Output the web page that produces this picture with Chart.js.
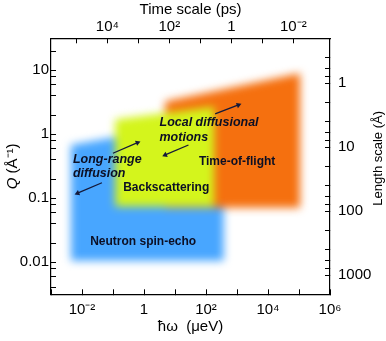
<!DOCTYPE html>
<html>
<head>
<meta charset="utf-8">
<script src="https://cdn.jsdelivr.net/npm/chart.js@4.4.1/dist/chart.umd.min.js"></script>
<style>
  html, body { margin: 0; padding: 0; background: #ffffff; }
  canvas { display: block; }
</style>
</head>
<body>
<canvas id="chart" width="386" height="341"></canvas>
<script>
// ---------------- data ----------------
const energyRange = [1e-3, 1e6];      // ħω axis (μeV)
const qRange = [0.00316, 31.6];       // Q axis (Å⁻¹)
const hbar = 658.2;                   // μeV·ps  (time = ħ / energy)
const twoPi = 6.2832;                 // length = 2π / Q

const energyTicks = [1e-3, 1e-2, 1e-1, 1, 10, 100, 1e3, 1e4, 1e5, 1e6];
const energyTickValues = [1e-2, 1, 1e2, 1e4, 1e6];
const energyTickLabels = ['10⁻²', '1', '10²', '10⁴', '10⁶'];

const timeTicks = [1e5, 1e4, 1e3, 100, 10, 1, 0.1, 0.01];
const timeTickValues = [1e4, 1e2, 1, 1e-2];
const timeTickLabels = ['10⁴', '10²', '1', '10⁻²'];

const qTicks = [0.004, 0.006, 0.008, 0.01, 0.02, 0.04, 0.06, 0.08, 0.1, 0.2, 0.4, 0.6, 0.8, 1, 2, 4, 6, 8, 10, 20];
const qTickValues = [0.01, 0.1, 1, 10];
const qTickLabels = ['0.01', '0.1', '1', '10'];

const lengthTicks = [0.4, 0.6, 0.8, 1, 2, 4, 6, 8, 10, 20, 40, 60, 80, 100, 200, 400, 600, 800, 1000];
const lengthTickValues = [1, 10, 100, 1000];
const lengthTickLabels = ['1', '10', '100', '1000'];

// instrument windows (corners: top-left, bottom-left, bottom-right, top-right)
const techniques = ['Neutron spin-echo', 'Time-of-flight', 'Backscattering'];
const nseEnergy = [0.0044, 0.0044, 370, 370];
const nseQ      = [0.68, 0.0106, 0.0106, 1.8];
const tofEnergy = [4.8, 4.8, 1.08e5, 1.08e5];
const tofQ      = [3.24, 0.071, 0.071, 8.97];
const bsEnergy  = [0.118, 0.118, 183, 183];
const bsQ       = [1.7, 0.0745, 0.0745, 2.7];

// arrows (tail -> head)
const arrowTailEnergy = [0.044, 0.0995, 27.2, 197];
const arrowTailQ      = [0.175, 0.505, 0.68, 2.08];
const arrowHeadEnergy = [0.0072, 0.618, 4.82, 1112];
const arrowHeadQ      = [0.12, 0.74, 0.475, 2.87];

// text notes
const noteText   = ['Long-range', 'diffusion', 'Local diffusional', 'motions', 'Time-of-flight', 'Backscattering', 'Neutron spin-echo'];
const noteEnergy = [0.0051, 0.0051, 3.16, 3.16, 1010, 5.2, 0.94];
const noteQ      = [0.407, 0.24, 1.54, 0.898, 0.369, 0.1465, 0.021];

// ---------------- styling ----------------
const FONT = '"Liberation Sans", Arial, Helvetica, sans-serif';
const INK = '#000000';
const ARROW = '#14193a';
const regionColors = ['#48a6ff', '#f5700f', '#d4f51c'];
const regionOrder = [3, 2, 1];
const noteItalic = [true, true, true, true, false, false, false];
const noteAlign = ['left', 'left', 'left', 'left', 'center', 'center', 'center'];

const pts = (xs, ys) => xs.map((x, i) => ({x: x, y: ys[i]}));
const labeler = (vals, texts) => (value) => {
  const i = vals.findIndex(v => Math.abs(Math.log10(v) - Math.log10(value)) < 1e-6);
  return i >= 0 ? texts[i] : '';
};
const tickSetter = (list) => (scale) => { scale.ticks = list.map(v => ({value: v})); };

const regionData = [[nseEnergy, nseQ], [tofEnergy, tofQ], [bsEnergy, bsQ]];
const regionDs = regionData.map((r, i) => ({
  type: 'line', label: techniques[i], data: pts(r[0], r[1]), fill: 'shape',
  backgroundColor: regionColors[i], borderWidth: 0, pointRadius: 0, tension: 0,
  order: regionOrder[i], soft: true, xAxisID: 'x', yAxisID: 'y'
}));

const arrowRotation = (c) => {
  if (c.type !== 'data') return 0;
  const d = c.chart.data.datasets[c.datasetIndex].data;
  const sx = c.chart.scales.x, sy = c.chart.scales.y;
  const dx = sx.getPixelForValue(d[1].x) - sx.getPixelForValue(d[0].x);
  const dy = sy.getPixelForValue(d[1].y) - sy.getPixelForValue(d[0].y);
  return Math.atan2(dx, -dy) * 180 / Math.PI;
};

const arrowDs = arrowTailEnergy.map((e, i) => ({
  type: 'line', label: 'arrow' + i,
  data: [{x: e, y: arrowTailQ[i]}, {x: arrowHeadEnergy[i], y: arrowHeadQ[i]}],
  borderColor: ARROW, borderWidth: 1.3, fill: false,
  pointRadius: [0, 3.2], pointStyle: 'triangle', pointRotation: arrowRotation,
  pointBackgroundColor: ARROW, pointBorderWidth: 0, order: 0,
  xAxisID: 'x', yAxisID: 'y'
}));

// blur all instrument windows together once they are painted
function softenArea(chart) {
  const c = chart.canvas, ctx = chart.ctx, a = chart.chartArea;
  const r = chart.currentDevicePixelRatio || 1;
  const off = document.createElement('canvas');
  off.width = c.width; off.height = c.height;
  off.getContext('2d').drawImage(c, 0, 0);
  ctx.save();
  ctx.setTransform(1, 0, 0, 1, 0, 0);
  ctx.beginPath();
  ctx.rect(a.left * r, a.top * r, (a.right - a.left) * r, (a.bottom - a.top) * r);
  ctx.clip();
  ctx.clearRect(a.left * r, a.top * r, (a.right - a.left) * r, (a.bottom - a.top) * r);
  ctx.filter = 'blur(' + (4 * r) + 'px)';
  ctx.drawImage(off, 0, 0);
  ctx.restore();
}

const softPlugin = {
  id: 'softRegions',
  beforeDatasetsDraw(chart) {
    chart.$drawSeq = chart.getSortedVisibleDatasetMetas().slice().reverse();
  },
  afterDatasetDraw(chart, args) {
    const seq = chart.$drawSeq || [];
    const k = seq.findIndex(m => m.index === args.index);
    const cur = chart.data.datasets[args.index];
    const nxt = seq[k + 1] ? chart.data.datasets[seq[k + 1].index] : null;
    if (cur.soft && !(nxt && nxt.soft)) softenArea(chart);
  }
};

const textPlugin = {
  id: 'notesAndTitles',
  afterDraw(chart) {
    const ctx = chart.ctx;
    const sx = chart.scales.x, sy = chart.scales.y, sr = chart.scales.yLen;
    ctx.save();
    ctx.fillStyle = '#0c0f24';
    ctx.textBaseline = 'middle';
    noteText.forEach((t, i) => {
      ctx.font = (noteItalic[i] ? 'italic bold 12.5px ' : 'bold 12px ') + FONT;
      ctx.textAlign = noteAlign[i];
      ctx.fillText(t, sx.getPixelForValue(noteEnergy[i]), sy.getPixelForValue(noteQ[i]));
    });
    ctx.restore();

    // left axis title: Q (Å⁻¹)
    const cy = (sy.top + sy.bottom) / 2;
    ctx.save();
    ctx.fillStyle = INK;
    ctx.textBaseline = 'middle';
    ctx.textAlign = 'left';
    ctx.translate(sy.left + 13, cy);
    ctx.rotate(-Math.PI / 2);
    const fI = 'italic 15px ' + FONT, fN = '15px ' + FONT;
    ctx.font = fI; const wQ = ctx.measureText('Q').width;
    ctx.font = fN; const rest = ' (Å⁻¹)'; const wR = ctx.measureText(rest).width;
    const x0 = -(wQ + wR) / 2;
    ctx.font = fI; ctx.fillText('Q', x0, 0);
    ctx.font = fN; ctx.fillText(rest, x0 + wQ, 0);
    ctx.restore();

    // right axis title
    ctx.save();
    ctx.fillStyle = INK;
    ctx.textBaseline = 'middle';
    ctx.textAlign = 'center';
    ctx.translate(sr.right - 8, cy - 8);
    ctx.rotate(-Math.PI / 2);
    ctx.font = '13px ' + FONT;
    ctx.fillText('Length scale (Å)', 0, 0);
    ctx.restore();
  }
};

const axisCommon = (extra) => Object.assign({
  type: 'logarithmic',
  border: {display: true, color: INK, width: 1.2, z: 1},
  grid: {display: true, drawOnChartArea: false, drawTicks: true, tickLength: -5,
         color: INK, tickColor: INK, tickWidth: 1, z: 1},
  z: 1
}, extra);

const tickFont = {family: FONT, size: 15};

new Chart(document.getElementById('chart'), {
  type: 'line',
  data: {datasets: [...regionDs, ...arrowDs]},
  options: {
    responsive: false,
    devicePixelRatio: 1,
    animation: false,
    layout: {padding: 0},
    plugins: {legend: {display: false}, tooltip: {enabled: false}},
    scales: {
      x: axisCommon({
        position: 'bottom', min: energyRange[0], max: energyRange[1],
        ticks: {autoSkip: false, maxRotation: 0, padding: 12, color: INK, font: tickFont, z: 1,
                callback: labeler(energyTickValues, energyTickLabels)},
        afterBuildTicks: tickSetter(energyTicks),
        afterFit: (s) => { s.height = 46.7; },
        title: {display: true, text: 'ħω  (μeV)', color: INK, font: {family: FONT, size: 15},
                padding: {top: 0, bottom: 5}}
      }),
      xTime: axisCommon({
        axis: 'x', position: 'top', reverse: true,
        min: hbar / energyRange[1], max: hbar / energyRange[0],
        ticks: {autoSkip: false, maxRotation: 0, padding: 7, color: INK, font: tickFont, z: 1,
                callback: labeler(timeTickValues, timeTickLabels)},
        afterBuildTicks: tickSetter(timeTicks),
        afterFit: (s) => { s.height = 38.3; },
        title: {display: true, text: 'Time scale (ps)', color: INK, font: {family: FONT, size: 15},
                padding: {top: 1, bottom: 0}}
      }),
      y: axisCommon({
        position: 'left', min: qRange[0], max: qRange[1],
        ticks: {autoSkip: false, padding: 7, color: INK, font: tickFont, z: 1,
                callback: labeler(qTickValues, qTickLabels)},
        afterBuildTicks: tickSetter(qTicks),
        afterFit: (s) => { s.width = 51; }
      }),
      yLen: axisCommon({
        axis: 'y', position: 'right', reverse: true,
        min: twoPi / qRange[1], max: twoPi / qRange[0],
        ticks: {autoSkip: false, padding: 13, color: INK, font: tickFont, z: 1,
                callback: labeler(lengthTickValues, lengthTickLabels)},
        afterBuildTicks: tickSetter(lengthTicks),
        afterFit: (s) => { s.width = 56; }
      })
    }
  },
  plugins: [softPlugin, textPlugin]
});
</script>
</body>
</html>
